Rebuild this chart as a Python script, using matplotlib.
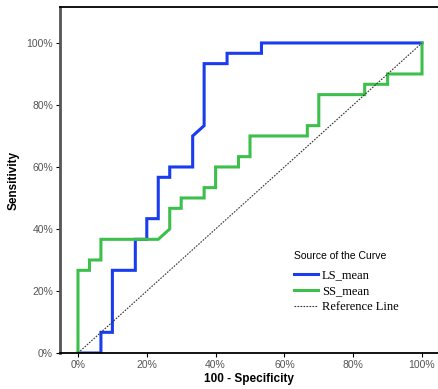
import numpy as np
import matplotlib
matplotlib.use("Agg")
import matplotlib.pyplot as plt
from matplotlib.ticker import PercentFormatter

# ROC points, counted in steps of 1/30 (30 cases per group)
n_cases = 30
ls_fpr = [0, 2, 2, 3, 3, 5, 5, 6, 6, 7, 7, 8, 8, 10, 10, 11, 11, 13, 13, 16, 16, 30]
ls_tpr = [0, 0, 2, 2, 8, 8, 11, 11, 13, 13, 17, 17, 18, 18, 21, 22, 28, 28, 29, 29, 30, 30]

ss_fpr = [0, 0, 1, 1, 2, 2, 7, 8, 8, 9, 9, 11, 11, 12, 12, 14, 14, 15, 15, 20, 20, 21, 21, 25, 25, 27, 27, 30, 30]
ss_tpr = [0, 8, 8, 9, 9, 11, 11, 12, 14, 14, 15, 15, 16, 16, 18, 18, 19, 19, 21, 21, 22, 22, 25, 25, 26, 26, 27, 27, 30]

tick_vals = [0, 0.2, 0.4, 0.6, 0.8, 1.0]

fig = plt.figure(figsize=(4.38, 3.89), dpi=100)
ax = fig.add_axes([60 / 438, 36 / 389, 1 - 60 / 438, 346 / 389])

ax.plot(np.array(ls_fpr) / n_cases, np.array(ls_tpr) / n_cases, color="#1a3cf0", lw=2.2,
        label="LS_mean", solid_joinstyle="miter")
ax.plot(np.array(ss_fpr) / n_cases, np.array(ss_tpr) / n_cases, color="#3dbf4c", lw=2.2,
        label="SS_mean", solid_joinstyle="miter")
ax.plot([0, 1], [0, 1], color="#333333", lw=0.8, ls=(0, (1.5, 1.2)), label="Reference Line")

ax.set_xlim(-0.0523, 1.0465)
ax.set_ylim(0, 1.116)
ax.set_xticks(tick_vals)
ax.set_yticks(tick_vals)
ax.xaxis.set_major_formatter(PercentFormatter(1.0, decimals=0))
ax.yaxis.set_major_formatter(PercentFormatter(1.0, decimals=0))
ax.tick_params(labelsize=7.5, labelcolor="#555555", length=3, width=0.8, pad=2)
for lab in ax.get_xticklabels() + ax.get_yticklabels():
    lab.set_family("Liberation Sans")

ax.spines["right"].set_visible(False)
ax.spines["left"].set_color("#555555")
ax.spines["left"].set_linewidth(2.0)
ax.spines["bottom"].set_linewidth(1.3)
ax.spines["top"].set_linewidth(1.3)

ax.set_xlabel("100 - Specificity", fontsize=8.5, fontweight="bold", family="Liberation Sans", labelpad=2)
ax.set_ylabel("Sensitivity", fontsize=8.5, fontweight="bold", family="Liberation Sans", labelpad=5)

leg = ax.legend(loc="upper left", bbox_to_anchor=(283 / 438, 1 - 240 / 389),
                bbox_transform=fig.transFigure, frameon=False,
                title="Source of the Curve", handlelength=1.9, handletextpad=0.3,
                labelspacing=0.3, prop={"family": "Liberation Serif", "size": 9})
leg.get_title().set_fontsize(7.5)
leg.get_title().set_family("Liberation Sans")
leg._legend_box.align = "left"
leg._legend_box.sep = 6

fig.savefig("out.png", dpi=100)
